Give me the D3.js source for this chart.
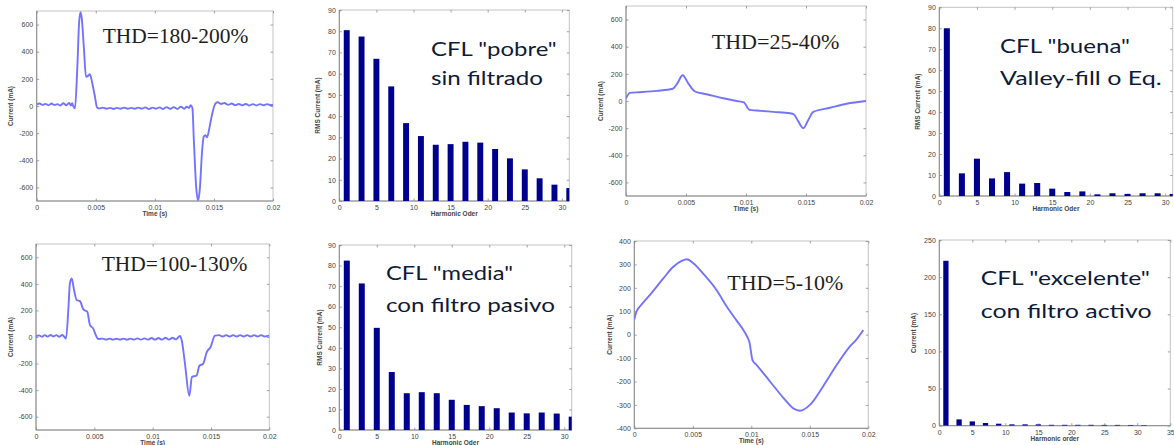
<!DOCTYPE html>
<html>
<head>
<meta charset="utf-8">
<script src="https://cdn.jsdelivr.net/npm/d3@7"></script>
<style>
  html, body { margin: 0; padding: 0; background: #fff; }
  svg { display: block; }
  .tick text { font-family: "Liberation Sans", Arial, sans-serif; font-size: 7px; fill: #444; }
  .axlab { font-family: "Liberation Sans", Arial, sans-serif; font-size: 6.5px; fill: #444; font-weight: bold; }
  .thd { font-family: "Liberation Serif", "Times New Roman", serif; font-size: 21.5px; fill: #1e1e1e; }
  .cfl { font-family: Lato, "Open Sans", sans-serif; font-size: 19.5px; fill: #0f1a38; }
</style>
</head>
<body>
<svg id="fig" width="1174" height="445"></svg>
<script>
// ---- Current waveforms over one 50 Hz cycle: [time (s), current (mA)] ----
const wavePobre = [
  [0,12],[0.00025,18],[0.0005,8],[0.00075,16],[0.001,6],[0.00125,18],[0.0015,8],[0.00175,14],
  [0.002,4],[0.00225,20],[0.0025,6],[0.00275,22],[0.0029,4],[0.003,20],[0.0031,-2],[0.00324,-17],
  [0.00344,290],[0.0036,630],[0.00372,692],[0.00382,640],[0.004,420],[0.00417,215],[0.00435,222],
  [0.0045,235],[0.0047,170],[0.00493,68],[0.0051,-10],[0.00527,-18],
  [0.0056,-12],[0.0059,-20],[0.0062,-14],[0.0065,-22],[0.0068,-14],[0.0071,-20],[0.0074,-12],
  [0.0077,-20],[0.008,-14],[0.0083,-20],[0.0086,-12],[0.0089,-20],[0.0092,-10],[0.0095,-22],
  [0.0098,-12],[0.0101,-20],[0.0104,-10],[0.0107,-22],[0.011,-8],[0.0113,-22],[0.0116,-8],
  [0.0119,-22],[0.0122,-5],[0.0125,-20],[0.0127,-5],[0.0129,-15],[0.01302,5],[0.01318,-15],
  [0.0133,-250],[0.0135,-600],[0.01366,-695],[0.0138,-620],[0.014,-330],[0.01414,-225],
  [0.01428,-215],[0.01442,-230],[0.0146,-170],[0.0148,-80],[0.0151,15],[0.0153,28],
  [0.0156,15],[0.0159,22],[0.0162,8],[0.0165,18],[0.0168,6],[0.0171,15],[0.0174,5],[0.0177,15],
  [0.018,4],[0.0183,14],[0.0186,4],[0.0189,14],[0.0192,5],[0.0195,14],[0.0198,6],[0.02,10]
];
const waveBuena = [
  [0,20],[0.00033,60],[0.00117,65],[0.00256,75],[0.00389,90],[0.00428,130],[0.00472,190],
  [0.00519,130],[0.00575,70],[0.00672,50],[0.00811,20],[0.00922,0],[0.00983,-10],[0.01006,-40],
  [0.01028,-65],[0.01089,-70],[0.01228,-80],[0.01367,-90],[0.014,-100],[0.01436,-150],
  [0.01478,-200],[0.01519,-140],[0.01561,-80],[0.017,-50],[0.01839,-20],[0.02,0]
];
const waveMedia = [
  [0,5],[0.00025,12],[0.0005,2],[0.00075,14],[0.001,3],[0.00125,15],[0.0015,4],[0.00175,14],
  [0.002,2],[0.00225,16],[0.0024,4],[0.00257,-12],
  [0.0028,250],[0.0029,400],[0.00306,440],[0.00326,354],[0.00349,278],[0.00377,270],
  [0.00406,208],[0.0044,190],[0.00463,89],[0.00491,63],[0.0051,20],[0.00534,-15],
  [0.0057,-12],[0.006,-20],[0.0063,-12],[0.0066,-20],[0.0069,-13],[0.0072,-20],[0.0075,-12],
  [0.0078,-20],[0.0081,-12],[0.0084,-20],[0.0087,-10],[0.009,-20],[0.0093,-10],[0.0096,-20],
  [0.0099,-8],[0.0102,-20],[0.0105,-8],[0.0108,-20],[0.0111,-6],[0.0114,-20],[0.0117,-6],
  [0.012,-18],[0.01234,8],[0.01249,-25],[0.01277,-200],[0.01314,-443],[0.01337,-300],
  [0.01377,-290],[0.014,-218],[0.01434,-200],[0.01463,-115],[0.01497,-75],[0.01534,10],
  [0.0157,14],[0.016,4],[0.0163,14],[0.0166,4],[0.0169,14],[0.0172,4],[0.0175,14],[0.0178,4],
  [0.0181,14],[0.0184,4],[0.0187,14],[0.019,4],[0.0193,14],[0.0196,4],[0.02,10]
];
const waveExcelente = [
  [0,65],[0.0002,100],[0.00048,120],[0.00134,170],[0.00248,240],[0.00333,290],[0.00405,315],
  [0.0045,322],[0.00504,305],[0.0059,260],[0.00704,190],[0.0079,120],[0.00875,60],
  [0.00932,20],[0.00966,-10],[0.00983,-30],[0.01011,-110],[0.01046,-130],[0.0116,-200],
  [0.01274,-270],[0.01359,-315],[0.01416,-325],[0.01501,-300],[0.01615,-220],[0.01729,-130],
  [0.01843,-50],[0.019,-20],[0.01957,20]
];

// ---- Harmonic spectra (odd orders) ----
const harmonicOrders = [1,3,5,7,9,11,13,15,17,19,21,23,25,27,29,31];
const rmsPobre     = [80.5,77.5,67,54,36.7,30.6,26.5,26.8,27.9,27.5,24.5,20.1,14.9,10.7,7.7,6.1];
const rmsBuena     = [80,10.8,17.8,8.4,11.4,5.9,6.2,3.5,1.9,2.2,0.8,1.3,1,1.3,1.3,1];
const rmsMedia     = [82.4,71.3,49.7,28.2,17.9,18.4,17.9,14.7,12.2,11.6,10.6,8.5,8.1,8.5,8,6.5];
const currExcelente= [222,8.5,5.8,3.6,2.7,1.8,1.8,1.8,1.2,1.2,1.2,1.2,1.1,1.1,1,0.8];

// ---- Tick values ----
const timeTicks = [0,0.005,0.01,0.015,0.02];
const currentTicks700 = [-600,-400,-200,0,200,400,600];
const currentTicks400 = [-400,-300,-200,-100,0,100,200,300,400];
const rmsTicks = [0,10,20,30,40,50,60,70,80,90];
const orderTicks = [0,5,10,15,20,25,30];
const orderTicks35 = [0,5,10,15,20,25,30,35];
const currTicks250 = [0,50,100,150,200,250];

// ---- Annotation texts ----
const thdLabels = ["THD=180-200%","THD=25-40%","THD=100-130%","THD=5-10%"];
const cflLabels = [
  ["CFL \"pobre\"","sin filtrado"],
  ["CFL \"buena\"","Valley-fill o Eq."],
  ["CFL \"media\"","con filtro pasivo"],
  ["CFL \"excelente\"","con filtro activo"]
];

const svg = d3.select("#fig");
const LINE = "#7373ff", BAR = "#00008f";
let clipId = 0;

function frame(g, b, x, y, xt, yt, xfmt, yfmt) {
  // MATLAB-style box with inward ticks on all four sides
  g.append("rect").attr("x", b.l).attr("y", b.t).attr("width", b.r - b.l).attr("height", b.b - b.t)
    .attr("fill", "none").attr("stroke", "#c4c4c4").attr("stroke-width", 1);
  const ax = (gen, tx, ty, fmt) => {
    const a = g.append("g").attr("transform", `translate(${tx},${ty})`).call(gen.tickFormat(fmt));
    a.select(".domain").remove();
    a.selectAll(".tick line").attr("stroke", "#8a8a8a").attr("stroke-width", 0.8);
    return a;
  };
  ax(d3.axisBottom(x).tickValues(xt).tickSize(-2.5).tickPadding(4), 0, b.b, xfmt);
  ax(d3.axisTop(x).tickValues(xt).tickSize(-2.5), 0, b.t, () => "");
  ax(d3.axisLeft(y).tickValues(yt).tickSize(-2.5).tickPadding(3.5), b.l, 0, yfmt);
  ax(d3.axisRight(y).tickValues(yt).tickSize(-2.5), b.r, 0, () => "");
  g.append("line").attr("x1", b.l).attr("x2", b.l).attr("y1", b.t).attr("y2", b.b).attr("stroke", "#8a8a8a");
  g.append("line").attr("x1", b.l).attr("x2", b.r).attr("y1", b.b).attr("y2", b.b).attr("stroke", "#8a8a8a");
}

function labels(g, b, xl, yl, ylx) {
  g.append("text").attr("class", "axlab").attr("text-anchor", "middle")
    .attr("x", (b.l + b.r) / 2).attr("y", b.b + 15).text(xl);
  g.append("text").attr("class", "axlab").attr("text-anchor", "middle")
    .attr("transform", `translate(${ylx},${(b.t + b.b) / 2}) rotate(-90)`).text(yl);
}

function clip(b) {
  const id = "clip" + (clipId++);
  svg.append("clipPath").attr("id", id).append("rect")
    .attr("x", b.l).attr("y", b.t).attr("width", b.r - b.l).attr("height", b.b - b.t);
  return `url(#${id})`;
}

const timeFmt = d => d === 0 ? "0" : String(+d.toFixed(3));
const plainFmt = d => String(d);

function wavePanel(b, data, ymax, yt, ylx) {
  const g = svg.append("g");
  const x = d3.scaleLinear().domain([0, 0.02]).range([b.l, b.r]);
  const y = d3.scaleLinear().domain([-ymax, ymax]).range([b.b, b.t]);
  frame(g, b, x, y, timeTicks, yt, timeFmt, plainFmt);
  g.append("path").datum(data).attr("clip-path", clip(b))
    .attr("fill", "none").attr("stroke", LINE).attr("stroke-width", 1.9).attr("stroke-linejoin", "round")
    .attr("d", d3.line().x(d => x(d[0])).y(d => y(d[1])).curve(d3.curveMonotoneX));
  labels(g, b, "Time (s)", "Current (mA)", ylx);
}

function barPanel(b, values, xmax, ymax, xt, yt, xl, yl, ylx) {
  const g = svg.append("g");
  const x = d3.scaleLinear().domain([0, xmax]).range([b.l, b.r]);
  const y = d3.scaleLinear().domain([0, ymax]).range([b.b, b.t]);
  frame(g, b, x, y, xt, yt, plainFmt, plainFmt);
  const w = x(0.8) - x(0);
  g.append("g").attr("clip-path", clip(b)).selectAll("rect")
    .data(harmonicOrders.map((h, i) => ({ h, v: values[i] })))
    .join("rect")
    .attr("x", d => x(d.h) - w / 2).attr("width", w)
    .attr("y", d => y(d.v)).attr("height", d => y(0) - y(d.v))
    .attr("fill", BAR);
  labels(g, b, xl, yl, ylx);
}

function thd(text, x, y, w) {
  svg.append("text").attr("class", "thd").attr("x", x).attr("y", y)
    .attr("textLength", w).attr("lengthAdjust", "spacingAndGlyphs").text(text);
}
function cfl(lines, x, ys, ws) {
  lines.forEach((t, i) => svg.append("text").attr("class", "cfl").attr("x", x).attr("y", ys[i])
    .attr("textLength", ws[i]).attr("lengthAdjust", "spacingAndGlyphs").text(t));
}

// Top row
wavePanel({ l: 36.7, r: 273, t: 11, b: 201 }, wavePobre, 700, currentTicks700, 13);
barPanel({ l: 339.3, r: 569.3, t: 10, b: 201 }, rmsPobre, 31, 90, orderTicks, rmsTicks,
  "Harmonic Oder", "RMS Current (mA)", 320);
wavePanel({ l: 626, r: 866, t: 6, b: 196 }, waveBuena, 700, currentTicks700, 603);
barPanel({ l: 939.3, r: 1172.7, t: 7.3, b: 196 }, rmsBuena, 31, 90, orderTicks, rmsTicks,
  "Harmonic Oder", "RMS Current (mA)", 920);

// Bottom row
wavePanel({ l: 36, r: 269.3, t: 244, b: 430 }, waveMedia, 700, currentTicks700, 13);
barPanel({ l: 339.3, r: 571.7, t: 245, b: 430 }, rmsMedia, 31, 90, orderTicks, rmsTicks,
  "Harmonic Oder", "RMS Current (mA)", 321.5);
wavePanel({ l: 634.3, r: 868.3, t: 241, b: 428.3 }, waveExcelente, 400, currentTicks400, 611.5);
barPanel({ l: 939.3, r: 1170.3, t: 240, b: 425.7 }, currExcelente, 35, 250, orderTicks35, currTicks250,
  "Harmonic order", "Current (mA)", 916);

// Annotations
thd(thdLabels[0], 102.7, 43.3, 145.6);
thd(thdLabels[1], 711.7, 49.3, 127.6);
thd(thdLabels[2], 101.7, 271, 145.6);
thd(thdLabels[3], 727.3, 290, 116);

cfl(cflLabels[0], 431, [56, 85], [125.7, 112]);
cfl(cflLabels[1], 1000, [53, 85], [130, 161.7]);
cfl(cflLabels[2], 386, [280, 311.7], [127, 169]);
cfl(cflLabels[3], 980.7, [285, 318], [169.3, 171]);
</script>
</body>
</html>
